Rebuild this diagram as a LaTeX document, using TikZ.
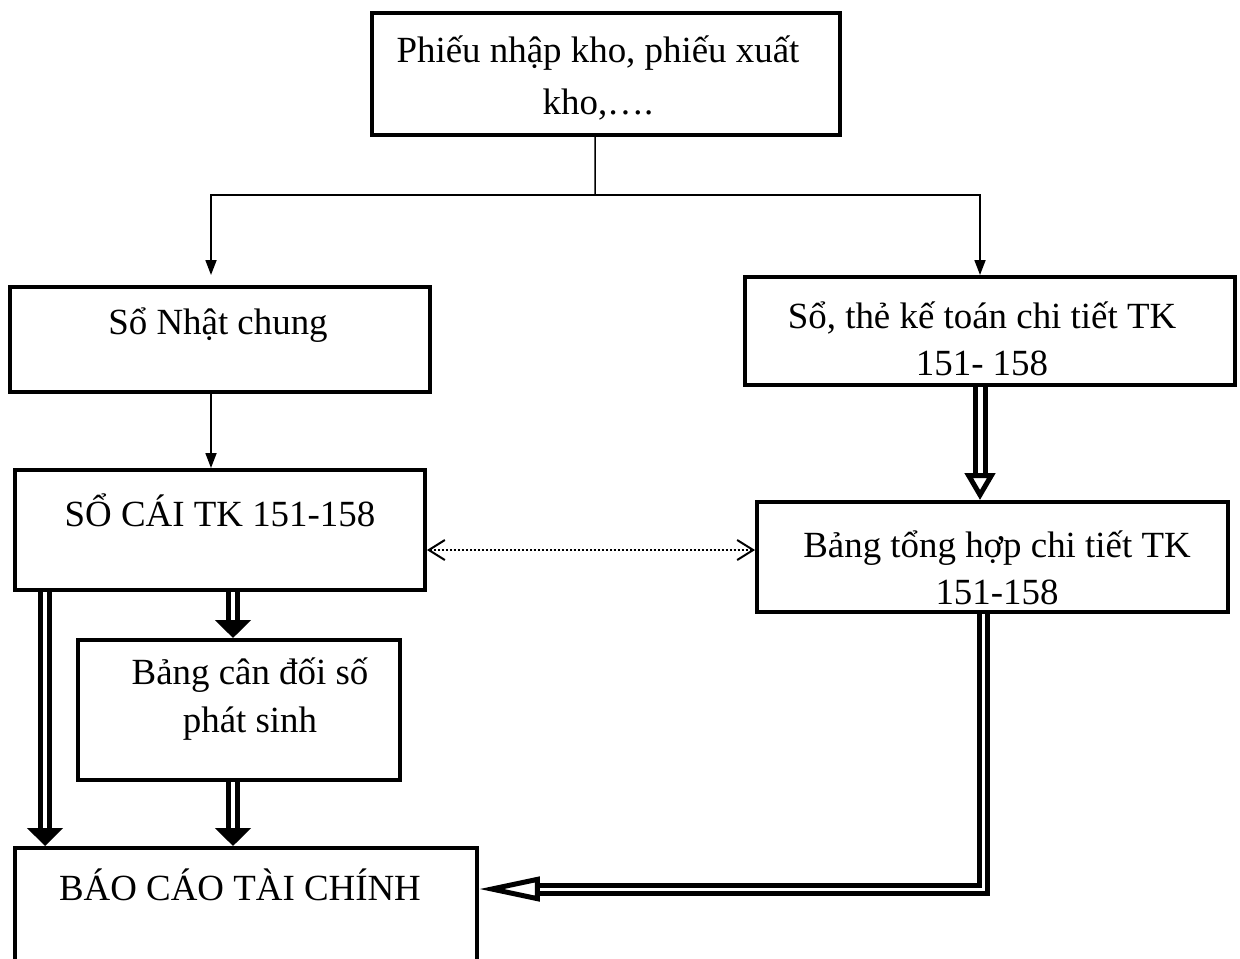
\documentclass[tikz,border=0pt]{standalone}
\usepackage{fontspec}
\setmainfont{Liberation Serif}
\usetikzlibrary{arrows.meta, positioning, calc}

\begin{document}
\begin{tikzpicture}[x=0.02cm, y=-0.02cm,
    box/.style={rectangle, draw, line width=0.08cm, inner sep=0pt},
    txt/.style={font=\fontsize{21}{27}\selectfont, align=center, inner sep=0pt},
    thinarrow/.style={-{Triangle[length=0.3cm, width=0.22cm]}, line width=0.035cm},
    bigdouble/.style={-{Triangle[open, length=0.54cm, width=0.6cm]}, double, line width=0.1cm, double distance=0.1cm},
    smalldouble/.style={-{Triangle[length=0.36cm, width=0.7cm]}, double, line width=0.1cm, double distance=0.08cm},
    backdouble/.style={-{Triangle[open, length=1.22cm, width=0.48cm]}, double, line width=0.1cm, double distance=0.06cm},
    linkarrow/.style={{Straight Barb[length=0.32cm, width=0.4cm]}-{Straight Barb[length=0.32cm, width=0.4cm]}, dash pattern=on 0.04cm off 0.04cm, line width=0.04cm}]
    \useasboundingbox (0,0) rectangle (1240,958);

    % chung tu goc
    \node[box, minimum width=9.36cm, minimum height=2.44cm] (phieu) at (606,74) {};
    \node[txt, font=\fontsize{21}{30}\selectfont] (phieu-t) at (598,78) {Phiếu nhập kho, phiếu xuất\\kho,….};

    % so nhat chung / so chi tiet
    \node[box, minimum width=8.4cm, minimum height=2.1cm] (nkchung) at (220,339.5) {};
    \node[txt] (nkchung-t) at (218,325) {Sổ Nhật chung};
    \node[box, minimum width=9.8cm, minimum height=2.16cm] (sochitiet) at (990,331) {};
    \node[txt] (sochitiet-t) at (982,339) {Sổ, thẻ kế toán chi tiết TK\\151- 158};

    \coordinate (split) at (595,195);
    \draw[line width=0.03cm] ([xshift=-0.22cm]phieu.south) -- (split);
    \draw[thinarrow] (split) -| ([xshift=-0.18cm,yshift=0.2cm]nkchung.north);
    \draw[thinarrow] (split) -| ([xshift=-0.2cm]sochitiet.north);

    % so cai / bang tong hop
    \node[box, minimum width=8.2cm, minimum height=2.4cm] (socai) at (220,530) {};
    \node[txt] (socai-t) at (220,510) {SỔ CÁI TK 151-158};
    \node[box, minimum width=9.42cm, minimum height=2.2cm] (tonghop) at (992.5,557) {};
    \node[txt] (tonghop-t) at (997,568) {Bảng tổng hợp chi tiết TK\\151-158};

    \draw[thinarrow] ([xshift=-0.18cm]nkchung.south) -- ([xshift=-0.18cm]socai.north);
    \draw[bigdouble] ([xshift=-0.2cm]sochitiet.south) -- ([xshift=-0.2cm]sochitiet.south |- tonghop.north);
    \draw[linkarrow] ([yshift=-0.4cm]socai.east) -- ([yshift=-0.4cm]socai.east -| tonghop.west);

    % bang can doi
    \node[box, minimum width=6.44cm, minimum height=2.8cm] (candoi) at (239,710) {};
    \node[txt] (candoi-t) at (250,699) {Bảng cân đối số\\phát sinh};

    % bao cao tai chinh
    \node[box, minimum width=9.24cm, minimum height=2.6cm] (bctc) at (246,913) {};
    \node[txt] (bctc-t) at (240,885) {BÁO CÁO TÀI CHÍNH};

    \draw[smalldouble] ([xshift=-0.12cm]socai.south -| candoi.north) -- ([xshift=-0.12cm]candoi.north);
    \draw[smalldouble] ([xshift=-0.12cm]candoi.south) -- ([xshift=-0.12cm]candoi.south |- bctc.north);
    \draw[smalldouble] ([xshift=0.64cm]socai.south west) -- ([xshift=0.64cm]socai.south west |- bctc.north);
    \draw[backdouble] ([xshift=-0.18cm]tonghop.south) |- ([yshift=0.48cm]bctc.east);
\end{tikzpicture}
\end{document}
